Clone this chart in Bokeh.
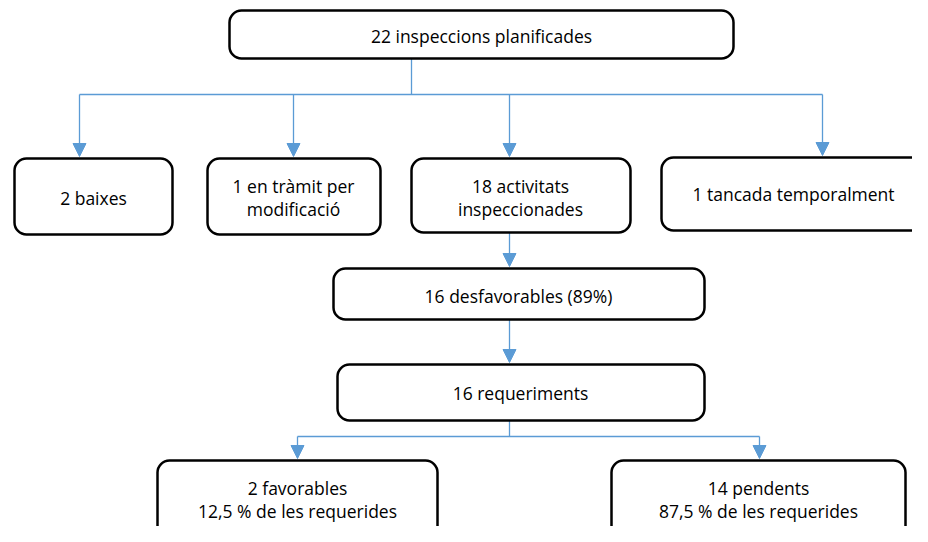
from bokeh.plotting import figure
from bokeh.embed import file_html
from bokeh.resources import INLINE
from bokeh.models import Range1d
from bokeh.core.properties import value

# ---- data: node texts (counts and labels) ----
node_ids = ["total", "baixes", "tramit", "inspec", "tancada", "desfav", "requer", "favor", "pend"]
node_text = [
    ["22 inspeccions planificades"],
    ["2 baixes"],
    ["1 en tràmit per", "modificació"],
    ["18 activitats", "inspeccionades"],
    ["1 tancada temporalment"],
    ["16 desfavorables (89%)"],
    ["16 requeriments"],
    ["2 favorables", "12,5 % de les requerides"],
    ["14 pendents", "87,5 % de les requerides"],
]
# parent -> children
edges = [("total", ["baixes", "tramit", "inspec", "tancada"]),
         ("inspec", ["desfav"]),
         ("desfav", ["requer"]),
         ("requer", ["favor", "pend"])]

# ---- layout (pixels) ----
box_left   = [229, 14, 207, 411, 661, 333, 337, 157, 611]
box_right  = [733, 172, 380, 630, 925, 704, 704, 437, 905]
box_top    = [10, 158, 158, 158, 157, 268, 364, 460, 460]
box_bottom = [58, 234, 234, 232, 230, 319, 420, 560, 560]
text_cx    = [481, 93, 293, 520, 793, 518, 520, 297, 758]
text_cy    = [35, 197, 197, 197, 193, 295, 392, 499, 499]
anchor_x   = {"total": 411, "baixes": 79, "tramit": 293, "inspec": 509, "tancada": 822,
              "desfav": 509, "requer": 509, "favor": 297, "pend": 759}
bus_y      = {"total": 94, "requer": 436}
LINE_GAP = 22.5
BLUE = "#5B9BD5"

W, H = 912, 526
p = figure(width=W, height=H, output_backend="svg", toolbar_location=None,
           x_range=Range1d(0, W), y_range=Range1d(H, 0),
           min_border=0)
p.axis.visible = False
p.grid.visible = False
p.outline_line_color = None
p.background_fill_color = "white"
p.border_fill_color = "white"

idx = {k: i for i, k in enumerate(node_ids)}

# connectors
sx0, sy0, sx1, sy1 = [], [], [], []
tri_xs, tri_ys = [], []
AH_W, AH_H = 13, 13
for parent, kids in edges:
    pi = idx[parent]
    px = anchor_x[parent]
    pb = box_bottom[pi]
    tips = [(anchor_x[k], box_top[idx[k]] - 2) for k in kids]
    if len(kids) > 1:
        by = bus_y[parent]
        sx0.append(px); sy0.append(pb); sx1.append(px); sy1.append(by)
        xs = [t[0] for t in tips]
        sx0.append(min(xs)); sy0.append(by); sx1.append(max(xs)); sy1.append(by)
        for tx, ty in tips:
            sx0.append(tx); sy0.append(by); sx1.append(tx); sy1.append(ty - AH_H + 1)
    else:
        tx, ty = tips[0]
        sx0.append(px); sy0.append(pb); sx1.append(tx); sy1.append(ty - AH_H + 1)
    for tx, ty in tips:
        tri_xs.append([tx - AH_W / 2, tx + AH_W / 2, tx])
        tri_ys.append([ty - AH_H, ty - AH_H, ty])

p.segment(sx0, sy0, sx1, sy1, line_color=BLUE, line_width=1.3)
p.patches(tri_xs, tri_ys, fill_color=BLUE, line_color=BLUE, line_width=1)

# boxes
p.quad(left=box_left, right=box_right, top=box_top, bottom=box_bottom,
       fill_color="white", line_color="black", line_width=2.5,
       border_radius=12, line_join="round")

# texts
tx, ty, tt = [], [], []
for i, lines in enumerate(node_text):
    n = len(lines)
    for j, s in enumerate(lines):
        tx.append(text_cx[i])
        ty.append(text_cy[i] + (j - (n - 1) / 2) * LINE_GAP)
        tt.append(s)
p.text(x=tx, y=ty, text=tt, text_align="center", text_baseline="middle",
       text_font=value("Open Sans"), text_font_size="17.5px", text_color="#000000")

open("out.html", "w").write(file_html(p, INLINE))
